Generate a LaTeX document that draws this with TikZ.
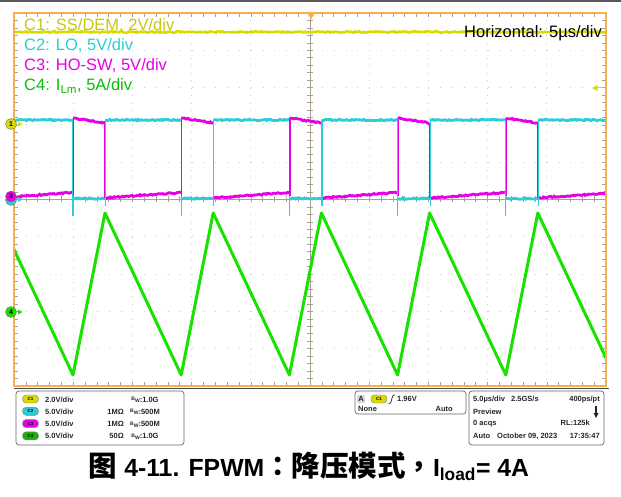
\documentclass[tikz,border=0pt]{standalone}
\usepackage{fontspec}
\setmainfont{Liberation Sans}
\newfontfamily\cjk[Scale=1.15]{Noto Sans CJK SC}
\newfontfamily\cjkp[Scale=1.1]{Noto Sans CJK TC}
\usepackage{tikz}
\usetikzlibrary{decorations.pathmorphing}
\definecolor{scYellow}{RGB}{218,218,0}
\definecolor{scYellowTxt}{RGB}{200,198,20}
\definecolor{scCyan}{RGB}{45,205,215}
\definecolor{scMag}{RGB}{230,0,230}
\definecolor{scGreen}{RGB}{25,225,0}
\definecolor{scGreenTxt}{RGB}{10,190,10}
\definecolor{scOrange}{RGB}{245,175,80}
\definecolor{scGrid}{RGB}{205,205,205}
\definecolor{scTick}{RGB}{170,160,145}
\tikzset{
  noisy/.style = {decorate, decoration={random steps, segment length=1.5pt,
    amplitude=0.7pt}},
  trace_y/.style = {scYellow, line width=2.5pt, noisy},% voie 1
  trace_c/.style = {scCyan, line width=2.8pt, noisy},% voie 2
  trace_m/.style = {scMag, line width=2.8pt, noisy},% voie 3
  trace_g/.style = {scGreen, line width=3pt, line join=round},% voie 4
  front_c/.style = {draw=scCyan, line width=1.1pt},
  front_m/.style = {draw=scMag, line width=1.1pt},
  grid_v/.style = {scGrid, line width=1pt, dash pattern=on 1pt off 6.46pt},
  grid_h/.style = {scGrid, line width=1pt, dash pattern=on 1pt off 10.84pt},
  tick/.style = {scTick, line width=0.6pt},
  lbl/.style = {inner sep=0pt, anchor=base west, font=\fontsize{16.5}{18}\selectfont},
  mark_ch/.style = {circle, draw=black!55, inner sep=0pt, minimum size=11pt,
    font=\fontsize{7}{7}\selectfont\bfseries},
  info/.style = {inner sep=0pt, text=black!85, font=\fontsize{7.5}{8}\selectfont\bfseries},
  pill/.style = {rounded corners=3.5pt, draw=black!50, inner sep=0pt,
    minimum width=16pt, minimum height=8pt, font=\fontsize{4.5}{5}\selectfont\bfseries},
  box_line/.style = {draw=black!60, line width=0.7pt, rounded corners=3pt}
}
\newcommand{\bwsym}{{\fontsize{5}{5}\selectfont\raisebox{1.6pt}{B}\raisebox{-0.6pt}{W}}}

\begin{document}
\begin{tikzpicture}[x=1pt, y=-1pt]
	\useasboundingbox (0,0) rectangle (621,497);
	\draw[line width=2pt, black!65] (0,1) -- (621,1);
	% grille
	\foreach \i in {1,2,3,4,6,7,8,9}
		\draw[grid_v] (14+59.2*\i,13) -- (14+59.2*\i,386);
	\foreach \j in {1,2,3,4,6,7,8,9}
		\draw[grid_h] (14,13+37.3*\j) -- (606,13+37.3*\j);
	\draw[tick] (310,13) -- (310,386);
	\draw[tick] (14,199.5) -- (606,199.5);
	\foreach \k in {1,...,49}{
		\draw[tick] (307,13+7.46*\k) -- (313,13+7.46*\k);
		\draw[tick] (14,13+7.46*\k) -- (18,13+7.46*\k);
		\draw[tick] (606,13+7.46*\k) -- (602,13+7.46*\k);
		\draw[tick] (14+11.84*\k,196.5) -- (14+11.84*\k,202.5);
		\draw[tick] (14+11.84*\k,13) -- (14+11.84*\k,17);
		\draw[tick] (14+11.84*\k,386) -- (14+11.84*\k,382);
	}
	% traces
	\begin{scope}
		\clip (14,13) rectangle (606,386);
		\draw[trace_y] (14,32) -- (606,32);
		\foreach \k in {-1,...,5}{
			\pgfmathsetmacro\s{73+108.2*\k}
			\draw[trace_m] (\s+32,198) -- (\s+108.2,192.5);
			\draw[trace_c] (\s,198.5) -- (\s+32,198.5);
			\draw[trace_m] (\s,118) -- (\s+32,123);
			\draw[trace_c] (\s+32,120) -- (\s+108.2,120);
			\draw[front_c] (\s,120) -- (\s,216);
			\draw[front_m] (\s+0.6,196) -- (\s+0.6,118);
			\draw[front_m] (\s+32,123) -- (\s+32,198);
			\draw[front_c] (\s+32.6,206) -- (\s+32.6,120);
		}
		\draw[trace_g] (-3.2,213) -- (73,375) -- (105,213) -- (181.2,375)
			-- (213.2,213) -- (289.4,375) -- (321.4,213) -- (397.6,375)
			-- (429.6,213) -- (505.8,375) -- (537.8,213) -- (614,375);
	\end{scope}
	\draw[scOrange, line width=2pt] (14,13) rectangle (606,386);
	\draw[black!70, line width=1.5pt] (14,388.5) -- (609,388.5);
	% reperes
	\fill[scOrange] (307,13) -- (315,13) -- (311,19) -- cycle;
	\draw[scYellow, line width=1pt] (596,88) -- (603,88);
	\fill[scYellow] (592,88) -- (597.5,85) -- (597.5,91) -- cycle;
	\fill[scYellow] (18,121.5) -- (22.5,124) -- (18,126.5) -- cycle;
	\fill[scCyan] (18,197) -- (22.5,199.5) -- (18,202) -- cycle;
	\fill[scGreen] (18,309.5) -- (22.5,312) -- (18,314.5) -- cycle;
	\node[mark_ch, fill=scYellow] (m1) at (11,124) {1};
	\node[mark_ch, fill=scCyan] (m2) at (11,200) {};
	\node[mark_ch, fill=scMag] (m3) at (11,196.5) {3};
	\node[mark_ch, fill=scGreen] (m4) at (11,312) {4};
	% textes
	\node[lbl, text=scYellowTxt] (l1) at (24,30.5) {C1: SS/DEM, 2V/div};
	\node[lbl, text=scCyan] (l2) at (24,50.5) {C2: LO, 5V/div};
	\node[lbl, text=scMag] (l3) at (24,70.5) {C3: HO-SW, 5V/div};
	\node[lbl, text=scGreenTxt] (l4) at (24,90.5) {C4: I\textsubscript{Lm}, 5A/div};
	\node[lbl, anchor=base east] (hz) at (602,37.5) {Horizontal: 5\textmu s/div};
	% panneau du bas
	\draw[box_line] (16,391) rectangle (184,445);
	\draw[box_line] (355,391) rectangle (466,414);
	\draw[box_line] (469,391) rectangle (604,445);
	\foreach \i/\c/\v/\z/\b in {1/scYellow/2.0/{}/1.0G, 2/scCyan/5.0/1MΩ/500M,
		3/scMag/5.0/1MΩ/500M, 4/scGreen!80!black/5.0/50Ω/1.0G}{
		\node[pill, fill=\c] (p\i) at (30.5,386.7+12.3*\i) {C\i};
		\node[info, anchor=base west] (v\i) at (45,389.7+12.3*\i) {\v V/div};
		\node[info, anchor=base east] (z\i) at (124,389.7+12.3*\i) {\z};
		\node[info, anchor=base] (b\i) at (145,389.7+12.3*\i) {\bwsym:\b};
	}
	\node[info, fill=black!15, minimum size=8pt] (trA) at (361,399) {A};
	\node[pill, fill=scYellow] (trC) at (379,399) {C1};
	\draw[black!85, line width=0.7pt, rounded corners=1pt] (388.5,403.5) -- (390.5,403.5)
		-- (393,395) -- (395,395);
	\node[info, anchor=base west] (trV) at (397,401.7) {1.96V};
	\node[info, anchor=base west] (trN) at (358,411.5) {None};
	\node[info, anchor=base east] (trM) at (453,411.5) {Auto};
	\node[info, anchor=base west] (h1) at (473,401.7) {5.0\textmu s/div};
	\node[info, anchor=base west] (h2) at (511,401.7) {2.5GS/s};
	\node[info, anchor=base east] (h3) at (600,401.7) {400ps/pt};
	\node[info, anchor=base west] (h4) at (473,414.7) {Preview};
	\draw[black!85, line width=1.6pt] (596,406) -- (596,414);
	\fill[black!85] (593.5,413) -- (598.5,413) -- (596,418) -- cycle;
	\node[info, anchor=base west] (h5) at (473,425.7) {0 acqs};
	\node[info, anchor=base east] (h6) at (590,425.7) {RL:125k};
	\node[info, anchor=base west] (h7) at (473,438.7) {Auto};
	\node[info, anchor=base west] (h8) at (497,438.7) {October 09, 2023};
	\node[info, anchor=base east] (h9) at (600,438.7) {17:35:47};
	% legende
	\node[inner sep=0pt, anchor=base, font=\fontsize{24.8}{26}\selectfont\bfseries] (cap) at (309,476)
		{{\cjk 图} 4-11. FPWM{\cjkp ：}{\cjk 降压模式}{\cjkp ，}I\textsubscript{load}= 4A};
\end{tikzpicture}
\end{document}
